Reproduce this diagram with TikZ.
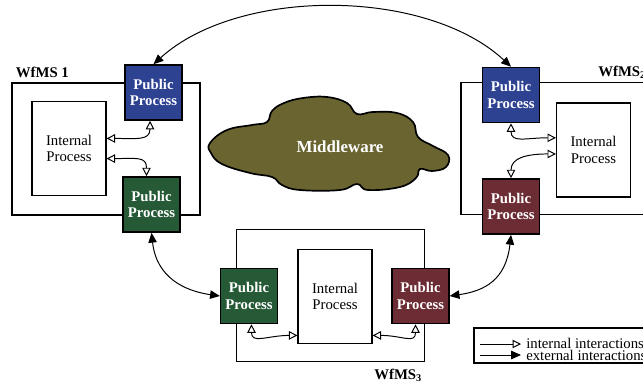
\documentclass[tikz,border=0pt]{standalone}
\usepackage{fontspec}
\setmainfont{Liberation Serif}
\usepackage{tikz}
\usetikzlibrary{arrows.meta, calc}
\definecolor{pubblue}{RGB}{46,66,146}
\definecolor{pubgreen}{RGB}{38,90,54}
\definecolor{pubred}{RGB}{108,44,52}
\definecolor{mwolive}{RGB}{106,101,48}

\begin{document}
\begin{tikzpicture}[
    x=0.025cm, y=-0.025cm,
    sysbox/.style={draw, line width=0.8pt, minimum width=4.7cm, minimum height=3.3cm},
    intbox/.style={draw, fill=white, line width=0.8pt, minimum width=1.85cm, minimum height=2.35cm, align=center, font=\fontsize{10.5}{11.5}\selectfont},
    pubbox/.style={draw, line width=1pt, minimum width=1.42cm, minimum height=1.38cm, align=center, text=white, inner sep=1pt, font=\fontsize{10.5}{11.5}\selectfont\bfseries},
    syslbl/.style={font=\fontsize{10.5}{12}\selectfont\bfseries},
    lgdtxt/.style={anchor=west, inner sep=0pt, align=left, font=\fontsize{10.5}{12}\selectfont},
    ext/.style={draw, line width=0.7pt, {Triangle[length=7pt,width=6pt]}-{Triangle[length=7pt,width=6pt]}},
    intl/.style={draw, line width=0.7pt, {Triangle[open,length=6pt,width=6pt]}-{Triangle[open,length=6pt,width=6pt]}}
]
    \useasboundingbox (0,0) rectangle (643,382);

    \draw[line width=1.2pt, fill=mwolive] plot[smooth cycle, tension=0.7] coordinates {
        (210,143) (227,130) (252,125) (267,122) (272,111) (284,103) (303,98) (327,97)
        (347,103) (357,114) (373,112) (397,113) (413,122) (418,137) (433,146) (448,155)
        (446,167) (432,171) (420,169) (416,178) (400,187) (368,190) (357,184) (340,190)
        (300,190) (282,185) (272,177) (250,173) (222,164) (211,153)};
    \node[text=white, font=\fontsize{12}{14}\selectfont\bfseries] (mw) at (340,147) {Middleware};

    \node[sysbox] (sys1) at (106,149) {};
    \node[sysbox] (sys2) at (555,148.5) {};
    \node[sysbox] (sys3) at (330.5,295.5) {};
    \node[syslbl, anchor=base west] (lbl1) at (11,77) {WfMS 1};
    \node[syslbl, anchor=base east] (lbl2) at (651,76) {WfMS\textsubscript{2}};
    \node[syslbl, anchor=base east] (lbl3) at (427,379) {WfMS\textsubscript{3}};

    \node[intbox] (int1) at (69,148.5) {Internal\\Process};
    \node[intbox] (int2) at (593.5,150) {Internal\\Process};
    \node[intbox] (int3) at (335,296.5) {Internal\\Process};

    \node[pubbox, fill=pubblue] (pub1a) at (153.5,92.5) {Public\\Process};
    \node[pubbox, fill=pubgreen] (pub1b) at (151.5,204.5) {Public\\Process};
    \node[pubbox, fill=pubblue] (pub2a) at (511,95) {Public\\Process};
    \node[pubbox, fill=pubred] (pub2b) at (511,206.5) {Public\\Process};
    \node[pubbox, fill=pubgreen] (pub3a) at (249,296) {Public\\Process};
    \node[pubbox, fill=pubred] (pub3b) at (420.5,296) {Public\\Process};

    \draw[ext] (pub1a.north) .. controls +(85,-77) and +(-85,-79) .. (pub2a.north);
    \draw[ext] (pub1b.south) .. controls +(5,45) and +(-35,-5) .. (pub3a.west);
    \draw[ext] (pub2b.south) .. controls +(-5,45) and +(35,-5) .. (pub3b.east);

    \draw[intl] (int1.15) .. controls +(30,0) and +(0,20) .. (pub1a.263);
    \draw[intl] (int1.-15) .. controls +(30,0) and +(0,-20) .. (pub1b.100);
    \draw[intl] (int2.162) .. controls +(-30,0) and +(0,20) .. (pub2a.south);
    \draw[intl] (int2.186) .. controls +(-30,0) and +(0,-20) .. (pub2b.north);
    \draw[intl] (pub3a.275) .. controls +(0,20) and +(-30,0) .. (int3.226);
    \draw[intl] (pub3b.260) .. controls +(0,20) and +(30,0) .. (int3.-46);

    \node[draw, line width=0.8pt, minimum width=4.7cm, minimum height=0.875cm] (legend) at (568,345.5) {};
    \coordinate (li1) at (480,344);
    \coordinate (li2) at (521,344);
    \coordinate (le1) at (480,355);
    \coordinate (le2) at (521,355);
    \draw[line width=0.7pt, -{Triangle[open,length=6pt,width=6pt]}] (li1) -- (li2);
    \draw[line width=0.7pt, -{Triangle[length=7pt,width=6pt]}] (le1) -- (le2);
    \node[lgdtxt] (ltxt) at (526,349.5) {internal interactions\\[-4pt]external interactions};
\end{tikzpicture}
\end{document}
